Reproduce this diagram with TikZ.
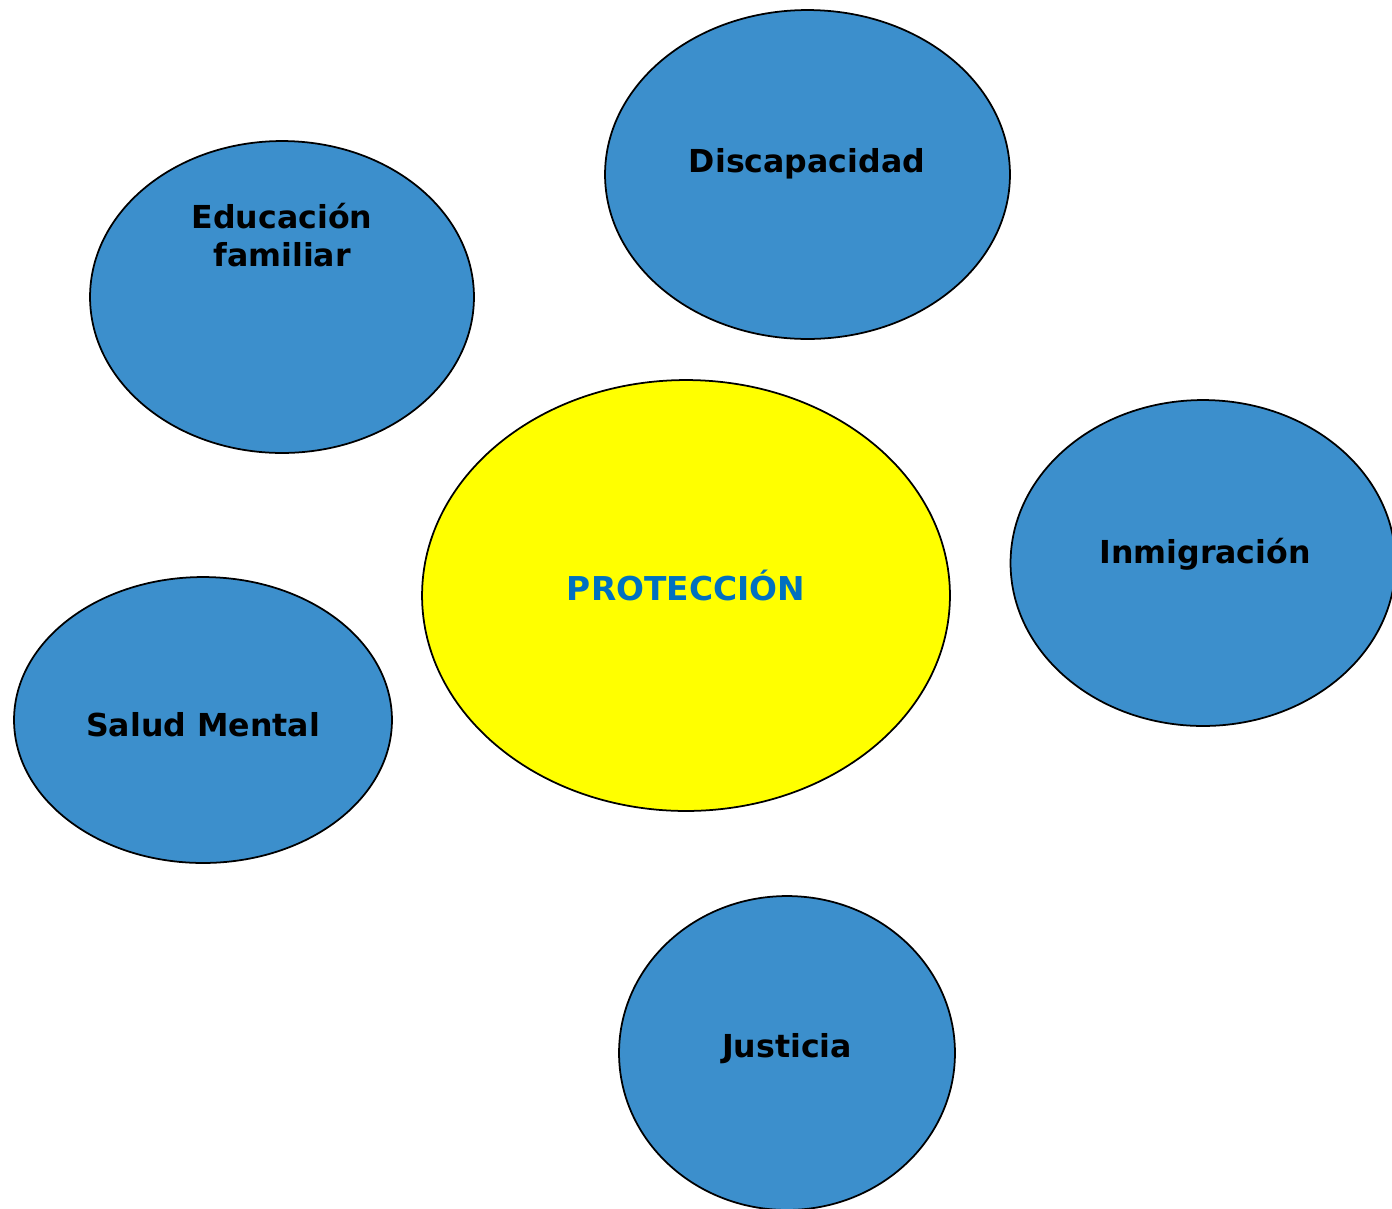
\documentclass[tikz,border=0pt]{standalone}
\usepackage{fontspec}
\setmainfont{DejaVu Sans}
\usepackage{xcolor}
\usepackage{tikz}
\usetikzlibrary{positioning, shapes.geometric}
\definecolor{BubbleBlue}{HTML}{3C8FCC}
\definecolor{CoreYellow}{HTML}{FFFF00}
\definecolor{CoreText}{HTML}{0070C0}

\begin{document}
\begin{tikzpicture}[
            x=0.02cm, y=-0.02cm,
            bubble/.style={ellipse, draw=black, line width=1pt, fill=BubbleBlue, inner sep=0pt},
            core/.style={ellipse, draw=black, line width=1pt, fill=CoreYellow, inner sep=0pt},
            tag/.style={font=\bfseries\fontsize{18}{21.5}\selectfont, align=center, inner sep=0pt}
        ]
            \useasboundingbox (0,0) rectangle (1392,1208);
            \clip (0,0) rectangle (1392,1208);

            % circulo central
            \node[core, minimum width=10.56cm, minimum height=8.62cm] at (686, 595.5) (proteccion) {};
            \node[tag, text=CoreText, font=\bfseries\fontsize{18.7}{22}\selectfont] at (686, 585) (proteccionTxt) {PROTECCIÓN};

            % ambitos
            \node[bubble, minimum width=8.1cm, minimum height=6.58cm] at (807.5, 174.5) (discapacidad) {};
            \node[tag] at (807, 164) (discapacidadTxt) {Discapacidad};

            \node[bubble, minimum width=7.68cm, minimum height=6.24cm] at (282, 297) (educacion) {};
            \node[tag] at (282, 235) (educacionTxt) {Educación\\familiar};

            \node[bubble, minimum width=7.7cm, minimum height=6.52cm] at (1203, 563) (inmigracion) {};
            \node[tag] at (1205, 554) (inmigracionTxt) {Inmigración};

            \node[bubble, minimum width=7.56cm, minimum height=5.72cm] at (203, 720) (salud) {};
            \node[tag] at (203, 725) (saludTxt) {Salud Mental};

            \node[bubble, minimum width=6.72cm, minimum height=6.28cm] at (787, 1053) (justicia) {};
            \node[tag] at (787, 1049) (justiciaTxt) {Justicia};

        \end{tikzpicture}
\end{document}
